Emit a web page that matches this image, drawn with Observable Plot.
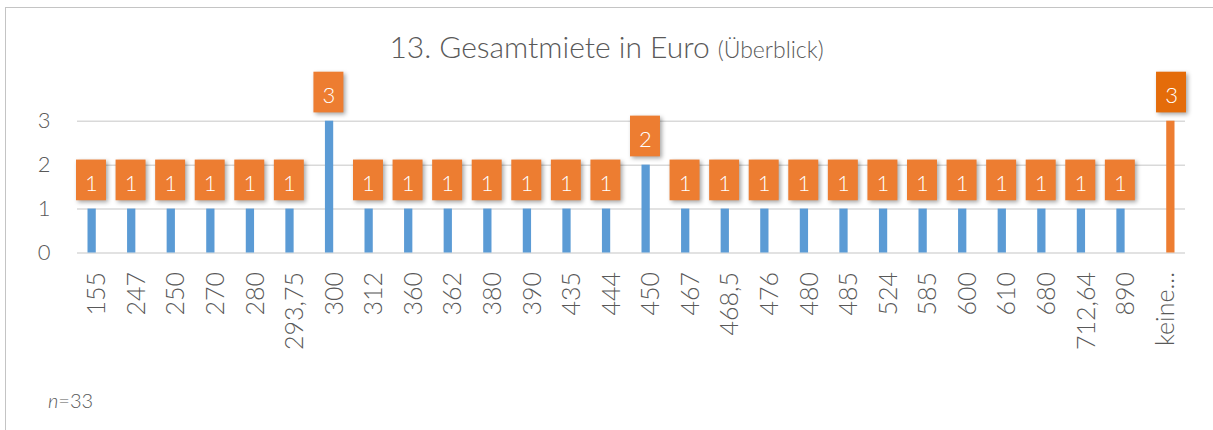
<!DOCTYPE html>
<html>
<head>
<meta charset="utf-8">
<script src="https://cdn.jsdelivr.net/npm/d3@7"></script>
<script src="https://cdn.jsdelivr.net/npm/@observablehq/plot@0.6"></script>
<style>
  html, body { margin: 0; padding: 0; background: #fff; }
  #wrap { position: relative; width: 1213px; height: 430px; overflow: hidden; font-family: Lato, "Open Sans", sans-serif; font-weight: 300; color: #595959; }
  #frame { position: absolute; left: 5px; top: 7px; width: 1230px; height: 450px; border: 1.5px solid #c4c4c4; box-sizing: border-box; }
  #title { position: absolute; left: 0; top: 28px; width: 1213px; text-align: center; font-size: 30px; line-height: 36px; white-space: nowrap; }
  #title small { font-size: 23px; }
  #note { position: absolute; left: 48px; top: 388px; font-size: 20px; line-height: 24px; font-weight: 300; }
  #chart { position: absolute; left: 0; top: 0; }
</style>
</head>
<body>
<div id="wrap">
  <div id="frame"></div>
  <div id="chart"></div>
  <div id="title">13. Gesamtmiete in Euro <small>(Überblick)</small></div>
  <div id="note"><i>n</i>=33</div>
</div>
<script>
const categories = ["155","247","250","270","280","293,75","300","312","360","362","380","390","435","444","450","467","468,5","476","480","485","524","585","600","610","680","712,64","890","keine..."];
const counts = [1,1,1,1,1,1,3,1,1,1,1,1,1,1,2,1,1,1,1,1,1,1,1,1,1,1,1,3];
const noAnswer = "keine...";
const yTicks = [0,1,2,3];

const rows = categories.map((c, i) => ({cat: c, value: counts[i]}));
const amounts = rows.filter(d => d.cat !== noAnswer);
const missing = rows.filter(d => d.cat === noAnswer);

const shadow = "drop-shadow(2px 2px 2px rgba(0,0,0,0.35))";

const chart = Plot.plot({
  width: 1213,
  height: 430,
  marginLeft: 77,
  marginRight: 28,
  marginTop: 120.7,
  marginBottom: 177.5,
  style: {fontFamily: "Lato, 'Open Sans', sans-serif", fontWeight: 300, color: "#595959", background: "transparent", overflow: "visible"},
  x: {type: "band", domain: categories, padding: 0, round: false},
  y: {domain: [0, 3]},
  marks: [
    Plot.ruleY(yTicks, {stroke: "#d9d9d9", strokeWidth: 1.5}),
    Plot.barY(amounts, {x: "cat", y: "value", fill: "#5B9BD5", insetLeft: 10.5, insetRight: 20.8}),
    Plot.barY(missing, {x: "cat", y: "value", fill: "#ED7D31", insetLeft: 20.8, insetRight: 10.5}),
    Plot.barY(amounts, {x: "cat", y1: "value", y2: "value", fill: "#ED7D31", insetLeft: -1, insetRight: 10.6, insetTop: -49, insetBottom: 8.3, imageFilter: shadow}),
    Plot.barY(missing, {x: "cat", y1: "value", y2: "value", fill: "#E46C0A", insetLeft: 10.6, insetRight: -1, insetTop: -49, insetBottom: 8.3, imageFilter: shadow}),
    Plot.text(amounts, {x: "cat", y: "value", text: d => String(d.value), dx: -5.8, dy: -25.5, fill: "white", fontSize: 22, fontWeight: 300}),
    Plot.text(missing, {x: "cat", y: "value", text: d => String(d.value), dx: 5.8, dy: -25.5, fill: "white", fontSize: 22, fontWeight: 300}),
    Plot.axisY({ticks: yTicks, tickSize: 0, tickPadding: 27, fontSize: 22, tickFormat: d => String(d), label: null}),
    Plot.axisX({tickSize: 0, tickPadding: 19, tickRotate: -90, fontSize: 25, label: null})
  ]
});
document.getElementById("chart").appendChild(chart);
</script>
</body>
</html>
